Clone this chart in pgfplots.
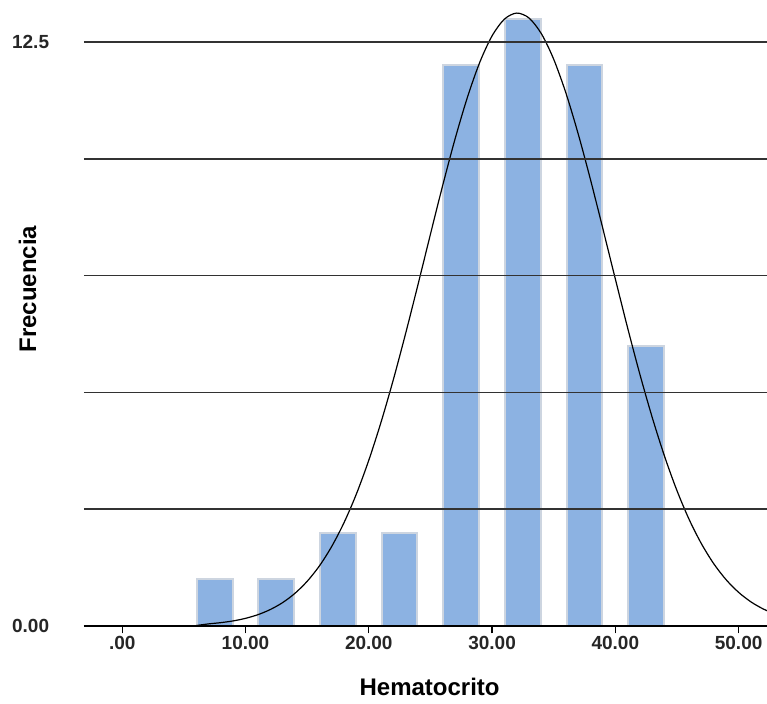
\documentclass[border=0pt]{standalone}
\usepackage{fontspec}
\setmainfont{Liberation Sans}
\usepackage{pgfplots}
\pgfplotsset{compat=1.18}

\definecolor{barblue}{RGB}{140,178,226}
\definecolor{baredge}{RGB}{205,213,224}
\definecolor{gridgray}{RGB}{50,50,50}

\begin{document}
\begin{tikzpicture}
\begin{axis}[
  scale only axis,
  width=341.5pt,
  height=313pt,
  xmin=-3.1, xmax=52.3,
  ymin=0, ymax=13.4,
  axis on top,
  axis lines*=left,
  y axis line style={draw=none},
  x axis line style={black, line width=0.8pt},
  xtick={0,10,20,30,40,50},
  xticklabels={.00,10.00,20.00,30.00,40.00,50.00},
  ytick={0,2.5,5,7.5,10,12.5},
  yticklabels={0.00,,,,,12.5},
  ytick style={draw=none},
  xtick style={black, line width=0.6pt},
  tick align=outside,
  major tick length=3.7pt,
  ymajorgrids,
  major grid style={gridgray, line width=0.75pt},
  ticklabel style={font=\bfseries\fontsize{9.5}{11}\selectfont, text=black!85},
  /pgf/number format/assume math mode=true,
  xticklabel style={anchor=center, yshift=-5pt},
  yticklabel style={anchor=center, xshift=-23pt},
  xlabel={Hematocrito},
  ylabel={Frecuencia},
  xlabel style={font=\bfseries\fontsize{12}{14}\selectfont, at={(axis description cs:0.506,0)}, anchor=center, yshift=-30.3pt},
  ylabel style={font=\bfseries\fontsize{12}{14}\selectfont, at={(axis description cs:0,0.538)}, anchor=center, yshift=28.2pt},
]
  % histogram counts per 5-unit bin
  \addplot[ybar, bar width=2.9, fill=barblue, draw=baredge, line width=1pt]
    coordinates {(7.5,1) (12.5,1) (17.5,2) (22.5,2) (27.5,12) (32.5,13) (37.5,12) (42.5,6)};
  % fitted normal curve
  \addplot[black, line width=0.6pt, smooth] coordinates {
    (6,0.01) (7,0.045) (8,0.072) (9,0.109) (10,0.164)
    (11,0.242) (12,0.351) (13,0.499) (14,0.697) (15,0.956) (16,1.288)
    (17,1.706) (18,2.217) (19,2.829) (20,3.548) (21,4.368) (22,5.282)
    (23,6.274) (24,7.318) (25,8.385) (26,9.436) (27,10.428) (28,11.317)
    (29,12.065) (30,12.632) (31,12.990) (32,13.120) (33,13.014) (34,12.678)
    (35,12.131) (36,11.400) (37,10.521) (38,9.537) (39,8.491) (40,7.425)
    (41,6.376) (42,5.378) (43,4.456) (44,3.625) (45,2.896) (46,2.272)
    (47,1.752) (48,1.326) (49,0.986) (50,0.720) (51,0.516) (52,0.364) (53,0.252)};
\end{axis}
\pgfresetboundingbox
\path (-42pt,-38.5pt) rectangle (341.5pt,313pt);
\end{tikzpicture}
\end{document}
